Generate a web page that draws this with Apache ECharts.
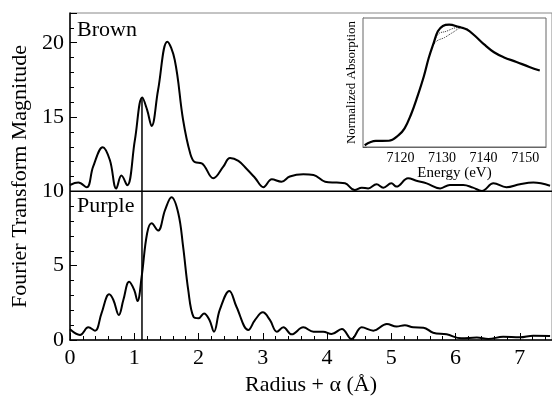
<!DOCTYPE html>
<html><head><meta charset="utf-8">
<script src="https://cdn.jsdelivr.net/npm/echarts@6/dist/echarts.min.js"></script>
<style>html,body{margin:0;padding:0;background:#fff}#c{width:552px;height:398px}</style>
</head><body><div id="c"></div>
<script>
// Fourier transform magnitude, Brown sample (offset by +10)
var brownR = [0,0.13,0.26,0.36,0.51,0.62,0.72,0.80,0.89,1.01,1.125,1.20,1.27,1.37,1.515,1.63,1.76,1.87,1.945,2.05,2.23,2.385,2.49,2.62,2.75,2.88,3.01,3.14,3.29,3.42,3.63,3.79,3.97,4.15,4.28,4.43,4.54,4.64,4.77,4.875,5.0,5.08,5.26,5.39,5.55,5.76,5.91,6.12,6.27,6.41,6.59,6.79,7.0,7.21,7.47];
var brownV = [10.43,10.59,10.27,11.66,12.97,12.11,10.2,11.06,10.41,13.46,16.31,15.48,14.4,16.8,20.07,18.84,14.8,12.56,11.96,11.89,10.88,11.66,12.25,12.05,11.5,10.9,10.28,10.81,10.65,11.0,11.15,11.1,10.65,10.59,10.54,10.09,10.25,10.2,10.48,10.25,10.54,10.32,10.88,10.72,10.54,10.2,10.43,10.43,10.25,10.03,10.54,10.28,10.48,10.59,10.38];
// Purple sample
var purpleR = [0,0.156,0.285,0.39,0.49,0.61,0.675,0.76,0.83,0.92,1.0,1.05,1.115,1.20,1.27,1.37,1.48,1.58,1.685,1.76,1.84,1.92,2.0,2.085,2.17,2.24,2.33,2.48,2.59,2.775,2.88,3.0,3.11,3.22,3.32,3.45,3.63,3.79,3.94,4.07,4.23,4.38,4.54,4.72,4.93,5.08,5.21,5.34,5.5,5.65,5.86,6.09,6.33,6.51,6.74,7.0,7.21,7.47];
var purpleV = [0.72,0.34,0.85,0.63,1.79,3.07,2.69,1.68,2.69,3.92,3.36,2.62,4.26,7.18,7.85,7.36,8.75,9.6,8.53,6.28,3.36,1.57,1.46,1.79,1.35,0.56,2.02,3.3,2.24,0.67,1.35,1.86,1.35,0.56,0.85,0.38,0.85,0.56,0.56,0.40,0.74,0.07,0.85,0.63,1.08,0.9,1.0,0.85,0.83,0.49,0.38,0.11,0.16,0.07,0.22,0.18,0.29,0.27];
// reference lines
var separatorX = [0, 7.5], separatorY = [10, 10];
var markerX = [1.12, 1.12], markerY = [0, 16.3];
// tick labels
var yTicks = [0,5,10,15,20];
var xTicks = [0,1,2,3,4,5,6,7];
// inset XANES
var insetE = [7111.4,7114.1,7117.2,7119.5,7121,7122.5,7124.1,7125.6,7126.8,7128,7129,7130.2,7131.7,7134,7136,7137.9,7140.2,7142.5,7144.8,7147.9,7151,7153.5];
var insetA = [0.02,0.068,0.07,0.13,0.21,0.36,0.57,0.79,1.0,1.17,1.30,1.36,1.375,1.35,1.32,1.25,1.15,1.065,1.01,0.956,0.90,0.86];
var dotAE = [7127.6,7128.7,7130.6,7132.5,7134.8,7136.5];
var dotAV = [1.12,1.19,1.23,1.285,1.34,1.315];
var dotBE = [7127.8,7129.1,7131,7133.3,7135.2];
var dotBV = [1.14,1.27,1.30,1.34,1.345];
var insetXLabels = [7120,7130,7140,7150];
var insetXMinor = [7112,7114,7116,7118,7120,7122,7124,7126,7128,7130,7132,7134,7136,7138,7140,7142,7144,7146,7148,7150,7152,7154];

function zip(a,b){return a.map(function(v,i){return [v,b[i]];});}
var serif = '"Liberation Serif","DejaVu Serif",serif';
var chart = echarts.init(document.getElementById('c'), null, {renderer:'canvas'});
chart.setOption({
  animation:false,
  backgroundColor:'#fff',
  grid:[
    {left:70, top:13, right:0, bottom:58, show:true, borderColor:'#888', borderWidth:1, outerBoundsMode:'none', containLabel:false},
    {left:363, top:18, right:6, bottom:251, show:true, borderColor:'#666', borderWidth:1, backgroundColor:'#fff', outerBoundsMode:'none', containLabel:false, z:5}
  ],
  xAxis:[
    {gridIndex:0, type:'value', min:0, max:7.5, interval:1,
     name:'Radius + \u03b1 (\u00c5)', nameLocation:'middle', nameGap:26,
     nameTextStyle:{fontFamily:serif, fontSize:22, color:'#000'},
     axisLine:{onZero:false, lineStyle:{color:'#000', width:1.5}},
     axisTick:{inside:true, length:7, lineStyle:{color:'#000'}},
     minorTick:{show:true, splitNumber:5, length:4, lineStyle:{color:'#000'}},
     splitLine:{show:false},
     axisLabel:{fontFamily:serif, fontSize:22, color:'#000', margin:7, showMaxLabel:false,
       formatter:function(v){return xTicks.indexOf(v)>=0 ? String(v) : '';}}},
    {gridIndex:1, type:'value', min:7111, max:7155,
     name:'Energy (eV)', nameLocation:'middle', nameGap:17,
     nameTextStyle:{fontFamily:serif, fontSize:15, color:'#000'},
     axisLine:{onZero:false, lineStyle:{color:'#666', width:1}},
     axisTick:{inside:true, length:3, customValues:insetXMinor, lineStyle:{color:'#333'}},
     splitLine:{show:false},
     axisLabel:{fontFamily:serif, fontSize:14, color:'#000', margin:4, customValues:insetXLabels,
       formatter:function(v){return String(v);}}}
  ],
  yAxis:[
    {gridIndex:0, type:'value', min:0, max:22, interval:5,
     name:'Fourier Transform Magnitude', nameLocation:'middle', nameGap:31,
     nameTextStyle:{fontFamily:serif, fontSize:22, color:'#000'},
     axisLine:{onZero:false, lineStyle:{color:'#000', width:1.5}},
     axisTick:{inside:true, length:7, lineStyle:{color:'#000'}},
     minorTick:{show:true, splitNumber:5, length:4, lineStyle:{color:'#000'}},
     splitLine:{show:false},
     axisLabel:{fontFamily:serif, fontSize:22, color:'#000', margin:6, showMaxLabel:false,
       formatter:function(v){return yTicks.indexOf(v)>=0 ? String(v) : '';}}},
    {gridIndex:1, type:'value', min:0, max:1.45, interval:0.3,
     name:'Normalized Absorption', nameLocation:'middle', nameGap:5,
     nameTextStyle:{fontFamily:serif, fontSize:13, color:'#000'},
     axisLine:{onZero:false, lineStyle:{color:'#666', width:1}},
     axisTick:{inside:true, length:4, lineStyle:{color:'#333'}},
     minorTick:{show:true, splitNumber:3, length:2, lineStyle:{color:'#555'}},
     splitLine:{show:false},
     axisLabel:{show:false}}
  ],
  series:[
    {type:'line', xAxisIndex:0, yAxisIndex:0, data:zip(separatorX,separatorY), symbol:'none', lineStyle:{color:'#000', width:1.5}, silent:true},
    {type:'line', xAxisIndex:0, yAxisIndex:0, data:zip(markerX,markerY), symbol:'none', lineStyle:{color:'#000', width:1.5}, silent:true},
    {type:'line', xAxisIndex:0, yAxisIndex:0, data:zip(brownR,brownV), symbol:'none', smooth:0.4, lineStyle:{color:'#000', width:2}},
    {type:'line', xAxisIndex:0, yAxisIndex:0, data:zip(purpleR,purpleV), symbol:'none', smooth:0.4, lineStyle:{color:'#000', width:2}},
    {type:'line', xAxisIndex:1, yAxisIndex:1, data:zip(dotAE,dotAV), symbol:'none', smooth:0.4, lineStyle:{color:'#333', width:1, type:'dotted'}, z:6},
    {type:'line', xAxisIndex:1, yAxisIndex:1, data:zip(dotBE,dotBV), symbol:'none', smooth:0.4, lineStyle:{color:'#333', width:1, type:'dotted'}, z:6},
    {type:'line', xAxisIndex:1, yAxisIndex:1, data:zip(insetE,insetA), symbol:'none', smooth:0.4, lineStyle:{color:'#000', width:2.2}, z:6}
  ],
  graphic:[
    {type:'text', left:77, top:19, z:10, style:{text:'Brown', fontFamily:serif, fontSize:22, fill:'#000'}},
    {type:'text', left:77, top:195, z:10, style:{text:'Purple', fontFamily:serif, fontSize:22, fill:'#000'}}
  ]
});
</script></body></html>
